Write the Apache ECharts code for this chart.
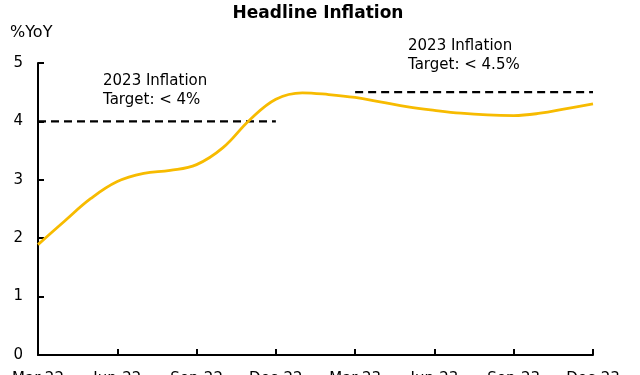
<!DOCTYPE html>
<html>
<head>
<meta charset="utf-8">
<script src="https://cdn.jsdelivr.net/npm/echarts@6/dist/echarts.min.js"></script>
<style>
  html, body { margin: 0; padding: 0; background: #fff; }
  #chart { width: 640px; height: 375px; }
</style>
</head>
<body>
<div id="chart"></div>
<script>
// headline inflation, monthly, Mar-22 .. Dec-23
const months = ['Mar-22', 'Apr-22', 'May-22', 'Jun-22', 'Jul-22', 'Aug-22', 'Sep-22', 'Oct-22', 'Nov-22', 'Dec-22',
    'Jan-23', 'Feb-23', 'Mar-23', 'Apr-23', 'May-23', 'Jun-23', 'Jul-23', 'Aug-23', 'Sep-23', 'Oct-23', 'Nov-23', 'Dec-23'];
const inflation = [1.89, 2.29, 2.68, 2.97, 3.11, 3.16, 3.26, 3.55, 4.02, 4.38,
    4.49, 4.46, 4.41, 4.33, 4.25, 4.19, 4.14, 4.11, 4.10, 4.14, 4.22, 4.30];
const target2022 = [4, 4, 4, 4, 4, 4, 4, 4, 4, 4,
    null, null, null, null, null, null, null, null, null, null, null, null];
const target2023 = [null, null, null, null, null, null, null, null, null, null,
    null, null, 4.5, 4.5, 4.5, 4.5, 4.5, 4.5, 4.5, 4.5, 4.5, 4.5];
const yTicks = [0, 1, 2, 3, 4, 5];

const font = 'DejaVu Sans';
const chartDom = document.getElementById('chart');
let chart = echarts.init(chartDom);

let option = {
    animation: false,
    textStyle: { fontFamily: font },
    title: {
        text: 'Headline Inflation',
        left: 313,
        textAlign: 'center',
        top: 0,
        textStyle: { fontFamily: font, fontSize: 17, fontWeight: 'bold', color: '#000' }
    },
    grid: { left: 38, right: 47, top: 63, bottom: 20, outerBoundsMode: 'none', containLabel: false },
    xAxis: {
        type: 'category',
        data: months,
        boundaryGap: false,
        axisLine: { lineStyle: { color: '#000', width: 2 } },
        axisTick: {
            inside: true,
            length: 6,
            interval: function (i) { return i % 3 === 0; },
            lineStyle: { color: '#000', width: 2 }
        },
        axisLabel: {
            interval: function (i) { return i % 3 === 0; },
            color: '#000',
            fontSize: 15,
            margin: 17
        },
        splitLine: { show: false }
    },
    yAxis: {
        type: 'value',
        min: yTicks[0],
        max: yTicks[yTicks.length - 1],
        interval: 1,
        name: '%YoY',
        nameLocation: 'end',
        nameGap: 22,
        nameTextStyle: { color: '#000', fontSize: 16, align: 'left', padding: [0, 0, 0, -28] },
        axisLine: { show: true, lineStyle: { color: '#000', width: 2 } },
        axisTick: { show: true, inside: true, length: 6, lineStyle: { color: '#000', width: 2 } },
        axisLabel: { color: '#000', fontSize: 15, margin: 15 },
        splitLine: { show: false }
    },
    series: [
        {
            name: 'Headline Inflation',
            type: 'line',
            data: inflation,
            smooth: 0.4,
            showSymbol: false,
            lineStyle: { color: '#F7BB00', width: 2.8 },
            z: 3
        },
        {
            name: 'Target 2022',
            type: 'line',
            data: target2022,
            showSymbol: false,
            lineStyle: { color: '#000', width: 2.2, type: [8, 5] },
            z: 2
        },
        {
            name: 'Target 2023',
            type: 'line',
            data: target2023,
            showSymbol: false,
            lineStyle: { color: '#000', width: 2.2, type: [8, 5] },
            z: 2
        }
    ],
    graphic: [
        {
            type: 'text',
            left: 103,
            top: 72,
            style: { text: '2023 Inflation\nTarget: < 4%', font: '15px "DejaVu Sans"', fill: '#000', lineHeight: 19 }
        },
        {
            type: 'text',
            left: 408,
            top: 37,
            style: { text: '2023 Inflation\nTarget: < 4.5%', font: '15px "DejaVu Sans"', fill: '#000', lineHeight: 19 }
        }
    ]
};

option && chart.setOption(option);
</script>
</body>
</html>
